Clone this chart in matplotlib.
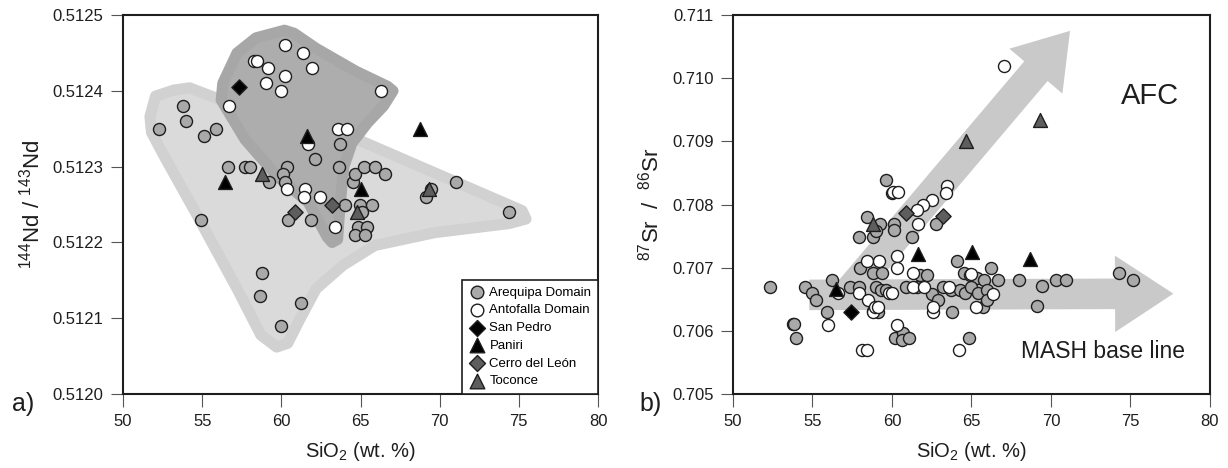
import matplotlib
matplotlib.use('Agg')
import matplotlib.pyplot as plt
from matplotlib.patches import Polygon

plt.rcParams['font.family'] = ['Liberation Sans', 'DejaVu Sans']
plt.rcParams['mathtext.fontset'] = 'custom'
plt.rcParams['mathtext.rm'] = 'Liberation Sans'
plt.rcParams['mathtext.default'] = 'regular'

# ---- a) 144Nd/143Nd vs SiO2 ----
nd_areq_x = [52.25, 53.8, 53.95, 55.1, 55.85, 54.95, 56.6, 57.7, 58.0, 59.2, 60.35, 60.4,
             61.9, 62.1, 63.65, 63.7, 64.0, 64.55, 64.65, 65.2, 65.9, 66.55, 64.97, 65.7,
             64.87, 65.4, 64.66, 65.3, 65.1, 69.15, 69.45, 71.0, 74.35, 58.75, 58.65,
             61.25, 60.0, 60.1, 60.2]
nd_areq_y = [0.51235, 0.51238, 0.51236, 0.51234, 0.51235, 0.51223, 0.51230, 0.51230, 0.51230,
             0.51228, 0.51230, 0.51223, 0.51223, 0.51231, 0.51230, 0.51233, 0.51225, 0.51228,
             0.51229, 0.51230, 0.51230, 0.51229, 0.51225, 0.51225, 0.51222, 0.51222, 0.51221,
             0.51221, 0.51224, 0.51226, 0.51227, 0.51228, 0.51224, 0.51216, 0.51213, 0.51212,
             0.51209, 0.51229, 0.51228]
nd_anto_x = [60.25, 61.35, 61.95, 58.3, 58.45, 59.15, 59.05, 60.0, 60.25, 66.3, 56.7, 63.6,
             64.15, 61.65, 60.35, 61.5, 61.45, 62.45, 63.4]
nd_anto_y = [0.51246, 0.51245, 0.51243, 0.51244, 0.51244, 0.51243, 0.51241, 0.51240, 0.51242,
             0.51240, 0.51238, 0.51235, 0.51235, 0.51233, 0.51227, 0.51227, 0.51226, 0.51226,
             0.51222]
nd_sanpedro_x = [57.35]
nd_sanpedro_y = [0.512405]
nd_paniri_x = [56.45, 61.6, 65.0, 68.75]
nd_paniri_y = [0.51228, 0.51234, 0.51227, 0.51235]
nd_leon_x = [60.85, 63.2]
nd_leon_y = [0.51224, 0.51225]
nd_toconce_x = [58.8, 64.75, 69.35]
nd_toconce_y = [0.51229, 0.51224, 0.51227]

# field outlines (SiO2, Nd ratio)
areq_field_x = [51.7, 52.05, 53.2, 54.2, 56.2, 60.5, 64.8, 75.2, 75.45, 74.4, 69.7, 65.9,
                63.9, 62.2, 61.2, 60.4, 59.7, 58.7, 57.2, 54.7, 52.7, 51.8]
areq_field_y = [0.512366, 0.512393, 0.512401, 0.512404, 0.512388, 0.51236, 0.512336, 0.512242,
                0.512231, 0.512225, 0.512213, 0.512196, 0.51217, 0.512139, 0.5121, 0.512067,
                0.512062, 0.512078, 0.512139, 0.512235, 0.51231, 0.512345]
anto_field_x = [56.3, 57.2, 58.4, 60.2, 60.8, 62.2, 64.7, 66.7, 67.05, 66.45, 65.45, 64.45,
                63.95, 63.7, 63.55, 63.2, 62.9, 61.7, 59.7, 57.7, 56.2]
anto_field_y = [0.51241, 0.51245, 0.51247, 0.51248, 0.512476, 0.512456, 0.512426, 0.512406,
                0.5124, 0.51238, 0.512358, 0.512331, 0.5123, 0.512248, 0.512204, 0.5122,
                0.512207, 0.512253, 0.512288, 0.512336, 0.512388]

# ---- b) 87Sr/86Sr vs SiO2 ----
sr_areq_x = [52.3, 53.75, 53.85, 53.95, 54.5, 55.0, 55.2, 55.9, 56.25, 57.35, 57.9, 58.0,
             58.8, 59.35, 58.4, 59.25, 57.95, 58.8, 59.0, 60.1, 60.1, 59.65, 60.0, 61.25,
             62.8, 64.1, 66.2, 61.75, 62.2, 64.5, 64.9, 65.35, 65.8,
             59.0, 59.3, 59.6, 60.9, 61.6, 62.5, 62.9, 63.2, 63.7, 64.3, 64.6, 65.0, 65.4,
             66.0, 66.7, 68.0, 69.1, 69.45, 70.3, 70.95, 74.3, 75.15,
             58.8, 59.1, 60.2, 60.7, 60.6, 61.1, 63.75, 64.85, 65.75, 65.95]
sr_areq_y = [0.70669, 0.70611, 0.70611, 0.70589, 0.70669, 0.70660, 0.70649, 0.70630, 0.70680,
             0.70670, 0.70670, 0.70699, 0.70691, 0.70691, 0.70781, 0.70770, 0.70748, 0.70748,
             0.70758, 0.70770, 0.70759, 0.70839, 0.70819, 0.70748, 0.70769, 0.70710, 0.70699,
             0.70688, 0.70688, 0.70691, 0.70688, 0.70683, 0.70680,
             0.70670, 0.70665, 0.70665, 0.70670, 0.70670, 0.70659, 0.70649, 0.70670, 0.70665,
             0.70665, 0.70660, 0.70670, 0.70660, 0.70665, 0.70680, 0.70681, 0.70640, 0.70671,
             0.70681, 0.70681, 0.70692, 0.70681,
             0.70631, 0.70630, 0.70588, 0.70596, 0.70586, 0.70588, 0.70630, 0.70588, 0.70638,
             0.70649]
sr_anto_x = [60.05, 60.35, 63.45, 63.4, 62.5, 61.95, 61.55, 61.65, 58.4, 59.2, 60.3, 60.3,
             61.35, 57.9, 58.5, 58.8, 58.95, 59.15, 56.0, 60.3, 58.1, 58.4, 64.2, 62.6, 62.6,
             65.3, 66.35, 67.05, 59.8, 60.0, 61.3, 62.0, 63.6, 64.95, 56.6]
sr_anto_y = [0.70820, 0.70820, 0.70829, 0.70818, 0.70808, 0.70799, 0.70791, 0.70770, 0.70710,
             0.70710, 0.70719, 0.70699, 0.70691, 0.70660, 0.70649, 0.70630, 0.70638, 0.70638,
             0.70609, 0.70609, 0.70569, 0.70569, 0.70569, 0.70630, 0.70638, 0.70638, 0.70659,
             0.71019, 0.70660, 0.70660, 0.70670, 0.70670, 0.70670, 0.70690, 0.70660]
sr_sanpedro_x = [57.4]
sr_sanpedro_y = [0.70630]
sr_paniri_x = [56.45, 61.62, 65.05, 68.65]
sr_paniri_y = [0.70667, 0.70722, 0.70725, 0.70714]
sr_leon_x = [60.9, 63.2]
sr_leon_y = [0.70786, 0.70782]
sr_toconce_x = [58.8, 64.65, 69.3]
sr_toconce_y = [0.70769, 0.70900, 0.70934]

# trend arrows: (start, tip) in data units
afc_start, afc_tip = (56.9, 0.70650), (71.2, 0.71075)
mash_start, mash_tip = (54.8, 0.70657), (77.7, 0.70659)

GREY = '#a9a9a9'
DARK = '#5e5e5e'
INK = '#1e1e1e'

fig = plt.figure(figsize=(12.28, 4.68), dpi=100)
ax1 = fig.add_axes([0.1002, 0.158, 0.3868, 0.8098])
ax2 = fig.add_axes([0.5969, 0.158, 0.3884, 0.8098])


def draw_groups(ax, groups):
    for x, y, kw in groups:
        ax.scatter(x, y, edgecolors=INK, linewidths=1.0, zorder=kw.pop('z', 4), **kw)


# fields
ax1.add_patch(Polygon(list(zip(areq_field_x, areq_field_y)), closed=True, facecolor='#dadada',
                      edgecolor='#d1d1d1', lw=8, joinstyle='round', zorder=1))
ax1.add_patch(Polygon(list(zip(anto_field_x, anto_field_y)), closed=True, facecolor='#adadad',
                      edgecolor='#a7a7a7', lw=8, joinstyle='round', zorder=2))

draw_groups(ax1, [
    (nd_areq_x, nd_areq_y, dict(s=75, marker='o', c=GREY, label='Arequipa Domain')),
    (nd_anto_x, nd_anto_y, dict(s=75, marker='o', c='white', label='Antofalla Domain')),
    (nd_sanpedro_x, nd_sanpedro_y, dict(s=60, marker='D', c='black', label='San Pedro', z=5)),
    (nd_paniri_x, nd_paniri_y, dict(s=100, marker='^', c='black', label='Paniri', z=5)),
    (nd_leon_x, nd_leon_y, dict(s=60, marker='D', c=DARK, label='Cerro del León', z=5)),
    (nd_toconce_x, nd_toconce_y, dict(s=100, marker='^', c=DARK, label='Toconce', z=5)),
])

for start, tip, hw, hl in [(afc_start, afc_tip, 50, 38), (mash_start, mash_tip, 55, 42)]:
    ax2.annotate('', xy=tip, xytext=start, zorder=1,
                 arrowprops=dict(arrowstyle='simple,head_length=%g,head_width=%g,tail_width=22'
                                 % (hl, hw), mutation_scale=1, color='#c9c9c9', lw=0,
                                 shrinkA=0, shrinkB=0))

draw_groups(ax2, [
    (sr_areq_x, sr_areq_y, dict(s=75, marker='o', c=GREY)),
    (sr_anto_x, sr_anto_y, dict(s=75, marker='o', c='white')),
    (sr_sanpedro_x, sr_sanpedro_y, dict(s=60, marker='D', c='black', z=5)),
    (sr_paniri_x, sr_paniri_y, dict(s=100, marker='^', c='black', z=5)),
    (sr_leon_x, sr_leon_y, dict(s=60, marker='D', c=DARK, z=5)),
    (sr_toconce_x, sr_toconce_y, dict(s=100, marker='^', c=DARK, z=5)),
])
ax2.text(76.2, 0.70972, 'AFC', fontsize=21, color=INK, ha='center', va='center')
ax2.text(73.3, 0.70567, 'MASH base line', fontsize=16.5, color=INK, ha='center', va='center')

for ax in (ax1, ax2):
    ax.set_xlim(50, 80)
    ax.set_xticks(range(50, 81, 5))
    ax.set_xlabel('SiO$_2$ (wt. %)', fontsize=14.5, color=INK, labelpad=8)
    ax.tick_params(direction='out', length=9, width=0.8, color='#555555',
                   labelsize=12, labelcolor=INK, pad=5)
    for sp in ax.spines.values():
        sp.set_linewidth(1.5)
        sp.set_color(INK)

ax1.set_ylim(0.5120, 0.5125)
ax1.set_yticks([0.5120, 0.5121, 0.5122, 0.5123, 0.5124, 0.5125])
ax1.set_yticklabels(['%.4f' % v for v in ax1.get_yticks()])
ax1.set_ylabel('$^{144}$Nd / $^{143}$Nd', fontsize=16, color=INK, labelpad=6)

ax2.set_ylim(0.705, 0.711)
ax2.set_yticks([0.705, 0.706, 0.707, 0.708, 0.709, 0.710, 0.711])
ax2.set_yticklabels(['%.3f' % v for v in ax2.get_yticks()])
ax2.set_ylabel('$^{87}$Sr  /  $^{86}$Sr', fontsize=16, color=INK, labelpad=6)

leg = ax1.legend(loc='lower right', borderaxespad=0, fontsize=9.5, frameon=True, fancybox=False,
                 framealpha=1, edgecolor=INK, labelspacing=0.42, handletextpad=0.3,
                 handlelength=1.3, borderpad=0.5, markerscale=1.05)
leg.get_frame().set_linewidth(1.2)
leg.set_zorder(10)

fig.text(0.0098, 0.137, 'a)', fontsize=18, color=INK, va='center')
fig.text(0.521, 0.137, 'b)', fontsize=18, color=INK, va='center')

fig.savefig('out.png', dpi=100)
